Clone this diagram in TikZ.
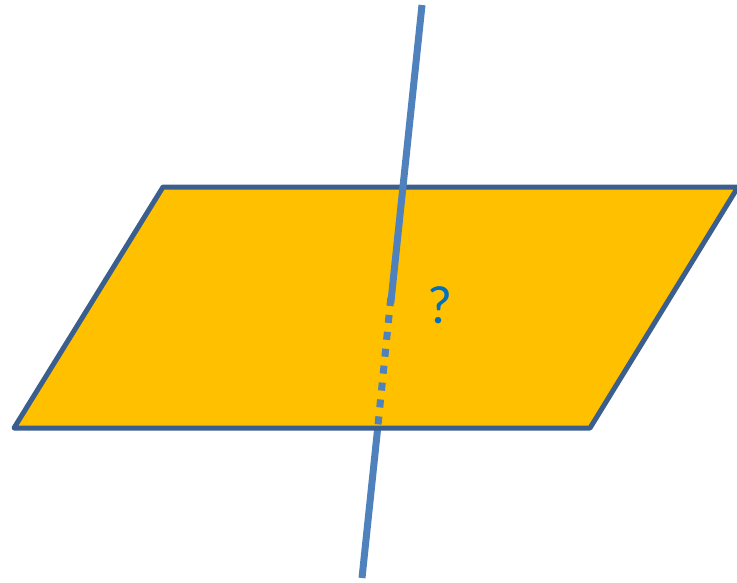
\documentclass[tikz,border=0pt]{standalone}
\usepackage{fontspec}
\setmainfont{Carlito}
\definecolor{planefill}{HTML}{FFC000}
\definecolor{planeedge}{HTML}{3A5F8E}
\definecolor{linecol}{HTML}{4F81BD}
\definecolor{qcol}{HTML}{0070C0}
\tikzset{
  plane/.style={fill=planefill, draw=planeedge, line width=5pt, line join=round},
  axis/.style={draw=linecol, line width=7pt, line cap=butt},
  hidden/.style={axis, dash pattern=on 8pt off 9pt},
  qmark/.style={font=\fontsize{54}{54}\selectfont, text=qcol, inner sep=0pt}
}
\begin{document}
\begin{tikzpicture}[x=1pt,y=-1pt]
\useasboundingbox (0,0) rectangle (737,582);
\coordinate (A) at (14,428);
\coordinate (B) at (590,428);
\coordinate (C) at (738,187);
\coordinate (D) at (163,187);
\coordinate (top) at (422,5);
\coordinate (enter) at (390.8,303);
\coordinate (exit) at (377.7,428);
\coordinate (bot) at (362,578);
% part below plane
\draw[axis] (exit) -- (bot);
% plane
\draw[plane] (A) -- (B) -- (C) -- (D) -- cycle;
% visible part above
\draw[axis] (top) -- (enter);
% hidden part
\draw[hidden] ([yshift=5pt]enter) -- (exit);
% question mark
\node[qmark] (q) at (440,305) {?};
\end{tikzpicture}
\end{document}
